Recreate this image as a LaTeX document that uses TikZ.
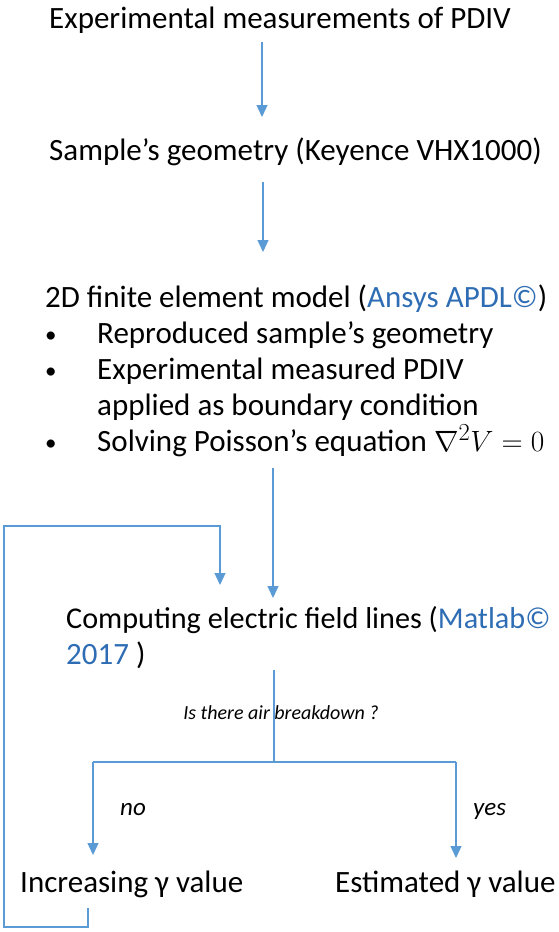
\documentclass[tikz,border=0pt]{standalone}
\usepackage{fontspec}
\usepackage{graphicx}
\setmainfont{Carlito}
\usetikzlibrary{arrows.meta}
\definecolor{arrowblue}{HTML}{5B9BD5}
\definecolor{textblue}{HTML}{2E6DB4}
\tikzset{
  txt/.style={anchor=base west, inner sep=0pt, font=\fontsize{31}{36}\selectfont},
  bul/.style={anchor=base west, inner sep=0pt, font=\fontsize{23}{28}\selectfont},
  small/.style={anchor=base, inner sep=0pt, font=\fontsize{20}{24}\selectfont\itshape},
  lbl/.style={anchor=base west, inner sep=0pt, font=\fontsize{25}{30}\selectfont\itshape},
  conn/.style={draw=arrowblue, line width=1.3pt},
  arr/.style={conn, -{Triangle[width=11pt,length=12pt]}},
}
\begin{document}
\begin{tikzpicture}[x=1pt,y=-1pt]
\useasboundingbox (0,0) rectangle (559,932);
% text nodes
\node[txt] (title) at (49,28) {Experimental measurements of PDIV};
\node[txt] (sample) at (49,160) {Sample’s geometry (Keyence VHX1000)};
\node[txt] (model) at (45,307) {2D finite element model (\textcolor{textblue}{Ansys APDL©})};
\node[bul] (b1) at (45,342) {•};
\node[txt] (m1) at (97,343) {Reproduced sample’s geometry};
\node[bul] (b2) at (45,378) {•};
\node[txt] (m2) at (97,379) {Experimental measured PDIV};
\node[txt] (m3) at (97,415) {applied as boundary condition};
\node[bul] (b3) at (45,450) {•};
\node[txt] (m4) at (97,451) {Solving Poisson’s equation \scalebox{1.18}{$\nabla^2 V = 0$}};
\node[txt, font=\fontsize{30.2}{36}\selectfont] (comp) at (66,628) {Computing electric field lines (\textcolor{textblue}{Matlab©}};
\node[txt] (comp2) at (66,664) {\textcolor{textblue}{2017} )};
\node[small] (quest) at (281,719) {Is there air breakdown ?};
\node[lbl] (no) at (120,815) {no};
\node[lbl] (yes) at (473,815) {yes};
\node[txt] (incr) at (20,892) {Increasing γ value};
\node[txt] (est) at (335,892) {Estimated γ value};
% connector coordinates
\coordinate (a1s) at (262,42);  \coordinate (a1e) at (262,117);
\coordinate (a2s) at (263,182); \coordinate (a2e) at (263,252);
\coordinate (a3s) at (273,468); \coordinate (a3e) at (273,598);
\coordinate (ds) at (274,670);  \coordinate (dj) at (274,762);
\coordinate (dl) at (93,762);   \coordinate (dr) at (456,762);
\coordinate (dle) at (93,855);  \coordinate (dre) at (456,858);
\coordinate (ls) at (88,908);   \coordinate (lb) at (88,927);
\coordinate (lbl) at (4,927);   \coordinate (ltl) at (4,526);
\coordinate (ltr) at (220,526); \coordinate (le) at (220,585);
% connectors
\draw[arr] (a1s) -- (a1e);
\draw[arr] (a2s) -- (a2e);
\draw[arr] (a3s) -- (a3e);
\draw[conn] (ds) -- (dj);
\draw[conn] (dl) -- (dr);
\draw[arr] (dl) -- (dle);
\draw[arr] (dr) -- (dre);
\draw[arr] (ls) -- (lb) -- (lbl) -- (ltl) -- (ltr) -- (le);
\end{tikzpicture}
\end{document}
